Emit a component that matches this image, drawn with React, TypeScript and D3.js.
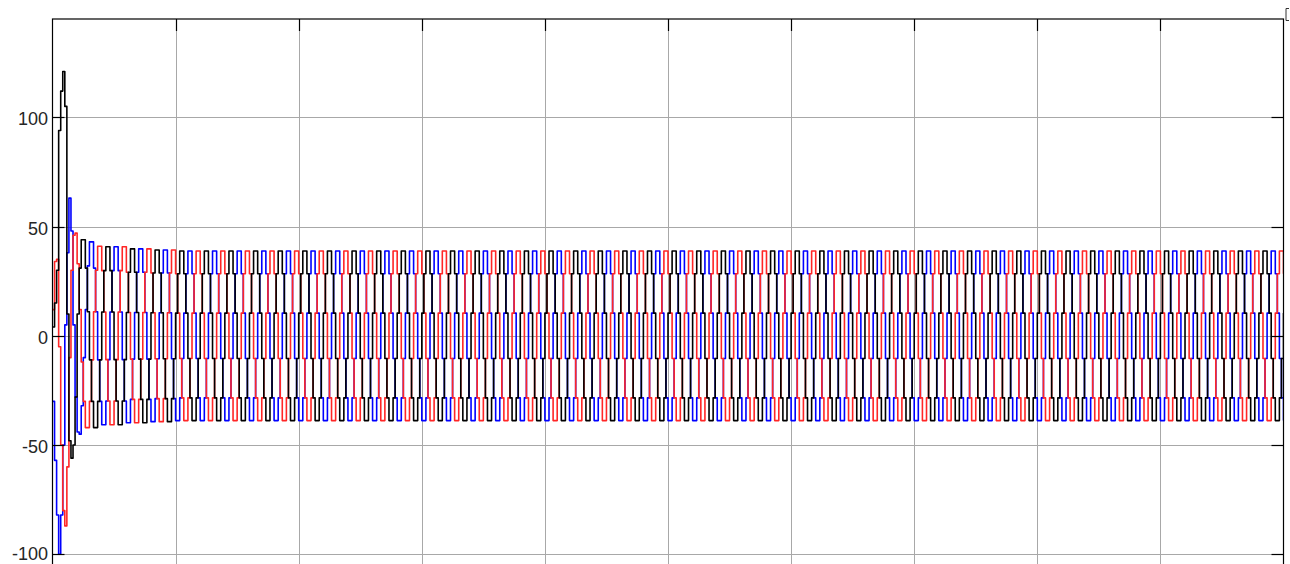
import React, { useEffect, useRef } from 'react';
import * as d3 from 'd3';

const W = 1290;
const H = 564;

// y tick labels and x grid positions (seconds)
const yTicks = [100, 50, 0, -50, -100];
const xGrid = [0, 0.1, 0.2, 0.3, 0.4, 0.5, 0.6, 0.7, 0.8, 0.9, 1.0];

// sampled (zero-order hold) currents: 600 samples/s, 12 per 50 Hz cycle
const sampleRate = 600;
const sampleCount = 600;
const cycleLevels = [0.26, 0.71, 0.97, 0.97, 0.71, 0.26, -0.26, -0.71, -0.97, -0.97, -0.71, -0.26];
const steadyAmp = 40;
// amplitude of cycles 3, 4, 5 while the start-up decays
const settleAmps = [42, 41, 40.5];

// first two cycles (24 samples) of each phase, read from the start-up transient
const startBlack = [4, 15, 30, 94, 112, 121, 105, 10, -48, -56, -50, -28, 10, 31, 44, 44, 31, 11, -11, -30, -42, -42, -30, -11];
const startBlue = [-30, -57, -82, -100, -82, -50, 5, 38, 63, 48, 5, -28, -44, -45, -32, -10, 12, 32, 43, 43, 31, 11, -11, -30];
const startRed = [12, 34, 35, -5, -50, -80, -87, -60, -10, 30, 46, 47, 33, 12, -12, -30, -42, -42, -30, -11, 11, 30, 41, 41];

const phases = [
  { name: 'b', start: startBlue, shift: 4, color: '#0000ff' },
  { name: 'c', start: startRed, shift: 8, color: '#ff2626' },
  { name: 'a', start: startBlack, shift: 0, color: '#000000' },
];

function buildSeries(start: number[], shift: number) {
  const pts: [number, number][] = [];
  for (let n = 0; n <= sampleCount; n++) {
    let v: number;
    if (n < start.length) v = start[n];
    else {
      const c = Math.floor(n / 12);
      const amp = settleAmps[c - 2] ?? steadyAmp;
      v = amp * cycleLevels[(n - shift + 1200) % 12];
    }
    pts.push([n / sampleRate, v]);
  }
  return pts;
}

const App: React.FC = () => {
  const svgRef = useRef<SVGSVGElement>(null);

  useEffect(() => {
    if (!svgRef.current) return;
    const svg = d3.select(svgRef.current);
    svg.selectAll('*').remove();

    const left = 52.5, right = 1283.5, top = 19, bottom = 598;
    const x = d3.scaleLinear().domain([0, 1]).range([left, right]);
    const y = d3.scaleLinear().domain([-120, 145]).range([bottom, top]);

    svg.append('defs').append('clipPath').attr('id', 'plot')
      .append('rect').attr('x', left).attr('y', top)
      .attr('width', right - left).attr('height', bottom - top);

    // grid
    const grid = svg.append('g').attr('stroke', '#a8a8a8').attr('stroke-width', 1);
    grid.selectAll('.gx').data(xGrid.slice(1, -1)).enter().append('line')
      .attr('x1', d => Math.round(x(d)) + 0.5).attr('x2', d => Math.round(x(d)) + 0.5)
      .attr('y1', top).attr('y2', bottom);
    grid.selectAll('.gy').data(yTicks).enter().append('line')
      .attr('x1', left).attr('x2', right)
      .attr('y1', d => Math.round(y(d)) + 0.5).attr('y2', d => Math.round(y(d)) + 0.5);

    // traces
    const line = d3.line<[number, number]>()
      .x(d => x(d[0]))
      .y(d => y(d[1]))
      .curve(d3.curveStepAfter);

    const traces = svg.append('g').attr('clip-path', 'url(#plot)');
    phases.forEach(p => {
      traces.append('path')
        .datum(buildSeries(p.start, p.shift))
        .attr('d', line)
        .attr('fill', 'none')
        .attr('stroke', p.color)
        .attr('stroke-width', 1.6)
        .attr('stroke-linejoin', 'round');
    });

    // frame + ticks
    const ax = svg.append('g').attr('stroke', '#000').attr('stroke-width', 1.2);
    ax.append('rect').attr('x', left).attr('y', top)
      .attr('width', right - left).attr('height', bottom - top).attr('fill', 'none');
    const tl = 12;
    ax.selectAll('.tt').data(xGrid.slice(1, -1)).enter().append('line')
      .attr('x1', d => Math.round(x(d)) + 0.5).attr('x2', d => Math.round(x(d)) + 0.5)
      .attr('y1', top).attr('y2', top + tl);
    ax.selectAll('.tlft').data(yTicks).enter().append('line')
      .attr('x1', left).attr('x2', left + tl)
      .attr('y1', d => Math.round(y(d)) + 0.5).attr('y2', d => Math.round(y(d)) + 0.5);
    ax.selectAll('.trgt').data(yTicks).enter().append('line')
      .attr('x1', right - tl).attr('x2', right)
      .attr('y1', d => Math.round(y(d)) + 0.5).attr('y2', d => Math.round(y(d)) + 0.5);

    svg.append('g').selectAll('text').data(yTicks).enter().append('text')
      .attr('x', left - 4.5)
      .attr('y', d => Math.min(y(d) + 8, H - 4))
      .attr('text-anchor', 'end')
      .attr('fill', '#262626')
      .style('font-family', '"Liberation Sans", Arial, sans-serif')
      .style('font-size', '18px')
      .text(d => String(d));

    // small window marker at top right corner
    svg.append('path')
      .attr('d', `M${W - 1},8.5 H${right + 2.5} V20.5 H${W - 1}`)
      .attr('fill', 'none').attr('stroke', '#333').attr('stroke-width', 1);
  }, []);

  return (
    <div style={{ position: 'absolute', left: 0, top: 0, width: W, height: H, background: '#fff' }}>
      <svg ref={svgRef} width={W} height={H} style={{ display: 'block', overflow: 'hidden' }} />
    </div>
  );
};

export default App;
